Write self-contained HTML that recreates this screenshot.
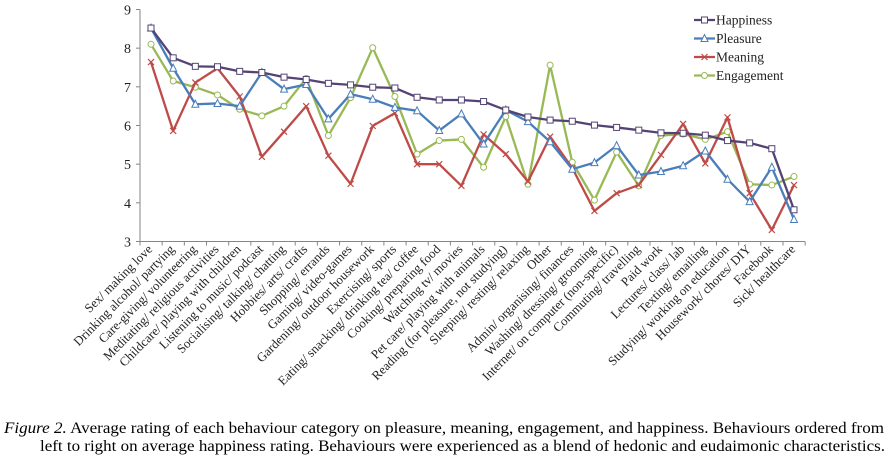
<!DOCTYPE html>
<html><head><meta charset="utf-8"><style>
html,body{margin:0;padding:0;background:#fff;}
svg{display:block;font-family:"Liberation Serif",serif;}
</style></head><body>
<svg id="chart" width="890" height="460" viewBox="0 0 890 460" xmlns="http://www.w3.org/2000/svg">
<g id="axes"></g>
<g id="lines"></g>
<g id="legend"></g>
<text x="4" y="433" font-size="15.5" textLength="880" lengthAdjust="spacingAndGlyphs"><tspan font-style="italic">Figure 2.</tspan> Average rating of each behaviour category on pleasure, meaning, engagement, and happiness. Behaviours ordered from</text>
<text x="40" y="451" font-size="15.5" textLength="845" lengthAdjust="spacingAndGlyphs">left to right on average happiness rating. Behaviours were experienced as a blend of hedonic and eudaimonic characteristics.</text>
</svg>
<script>
const categories = ["Sex/ making love","Drinking alcohol/ partying","Care-giving/ volunteering","Meditating/ religious activities","Childcare/ playing with children","Listening to music/ podcast","Socialising/ talking/ chatting","Hobbies/ arts/ crafts","Shopping/ errands","Gaming/ video-games","Gardening/ outdoor housework","Exercising/ sports","Eating/ snacking/ drinking tea/ coffee","Cooking/ preparing food","Watching tv/ movies","Pet care/ playing with animals","Reading (for pleasure, not studying)","Sleeping/ resting/ relaxing","Other","Admin/ organising/ finances","Washing/ dressing/ grooming","Internet/  on computer (non-specific)","Commuting/ travelling","Paid work","Lectures/ class/ lab","Texting/ emailing","Studying/ working on education","Housework/ chores/ DIY","Facebook","Sick/ healthcare"];
const happiness = [8.52,7.75,7.53,7.52,7.40,7.37,7.25,7.19,7.09,7.05,6.99,6.97,6.73,6.66,6.66,6.62,6.40,6.22,6.14,6.11,6.01,5.95,5.88,5.81,5.80,5.75,5.61,5.55,5.40,3.82];
const pleasure = [8.52,7.48,6.55,6.57,6.50,7.37,6.94,7.06,6.17,6.81,6.68,6.47,6.38,5.87,6.30,5.52,6.40,6.10,5.58,4.87,5.04,5.48,4.72,4.81,4.96,5.34,4.61,4.03,4.92,3.57];
const meaning = [7.64,5.86,7.11,7.48,6.75,5.19,5.84,6.50,5.22,4.49,5.99,6.32,5.00,5.00,4.44,5.77,5.26,4.55,5.71,4.90,3.79,4.25,4.46,5.24,6.04,5.02,6.21,4.25,3.30,4.46];
const engagement = [8.10,7.15,6.99,6.79,6.42,6.25,6.50,7.22,5.74,6.72,8.01,6.75,5.26,5.61,5.64,4.92,6.23,4.48,7.56,5.05,4.07,5.31,4.44,5.74,5.78,5.64,5.84,4.48,4.46,4.68];
const yTicks = [3,4,5,6,7,8,9];
const seriesNames = ["Happiness","Pleasure","Meaning","Engagement"];

const NS="http://www.w3.org/2000/svg";
const X0=151, DX=(794-151)/29, Y9=9.5, Y3=241.5;
function xs(i){return X0+i*DX;}
function ys(v){return Y3-(v-3)*(Y3-Y9)/6;}
function mk(tag,attrs,parent){const e=document.createElementNS(NS,tag);for(const k in attrs)e.setAttribute(k,attrs[k]);parent.appendChild(e);return e;}
const axes=document.getElementById('axes');
let e=mk('line',{x1:140,y1:Y9,x2:140,y2:Y3,stroke:'#868686','stroke-width':1},axes);


e=mk('line',{x1:140,y1:Y3,x2:805,y2:Y3,stroke:'#868686','stroke-width':1},axes);


yTicks.forEach(t=>{
  mk('line',{x1:136,y1:ys(t),x2:140,y2:ys(t),stroke:'#868686'},axes);
  const tx=mk('text',{x:131,y:ys(t)+5,'text-anchor':'end','font-size':14,fill:'#222'},axes);
  tx.textContent=t;
  
  
});
for(let i=0;i<=categories.length;i++){
  const x=140+i*DX;
  mk('line',{x1:x,y1:Y3,x2:x,y2:Y3+4,stroke:'#868686'},axes);
}
categories.forEach((c,i)=>{
  const x=xs(i)+2,y=250;
  const tx=mk('text',{x:x,y:y,'text-anchor':'end','font-size':12.8,fill:'#222',transform:`rotate(-45 ${x} ${y})`},axes);
  tx.textContent=c;
  
  
});
const colors=['#544475','#4a7ebb','#be4b48','#98b954'];
const data=[happiness,pleasure,meaning,engagement];
const lines=document.getElementById('lines');
function marker(kind,x,y,col,g){
  let m;
  if(kind===0) m=mk('rect',{x:x-3,y:y-3,width:6,height:6,fill:'#fff',stroke:col,'stroke-width':1},g);
  else if(kind===1) m=mk('polygon',{points:`${x},${y-4} ${x+3.5},${y+3} ${x-3.5},${y+3}`,fill:'#fff',stroke:col,'stroke-width':1},g);
  else if(kind===2) m=mk('path',{d:`M${x-3},${y-3}L${x+3},${y+3}M${x-3},${y+3}L${x+3},${y-3}`,stroke:col,'stroke-width':1.2,fill:'none'},g);
  else m=mk('circle',{cx:x,cy:y,r:3,fill:'#fff',stroke:col,'stroke-width':1},g);
  return m;
}
[3,2,1,0].forEach(s=>{
  const g=mk('g',{},lines);
  
  
  const pts=data[s].map((v,i)=>xs(i)+','+ys(v)).join(' ');
  mk('polyline',{points:pts,fill:'none',stroke:colors[s],'stroke-width':2.3,'stroke-linejoin':'round'},g);
  data[s].forEach((v,i)=>{
    const m=marker(s,xs(i),ys(v),colors[s],g);
    
    
  });
});
const leg=document.getElementById('legend');
seriesNames.forEach((n,s)=>{
  const y=20+s*18.5;
  const g=mk('g',{},leg);
  
  
  mk('line',{x1:694,y1:y,x2:715,y2:y,stroke:colors[s],'stroke-width':2.3},g);
  marker(s,704.5,y,colors[s],g);
  const t=mk('text',{x:716,y:y+4.5,'font-size':13.5,fill:'#222'},g);
  t.textContent=n;
});
</script>
</body></html>
